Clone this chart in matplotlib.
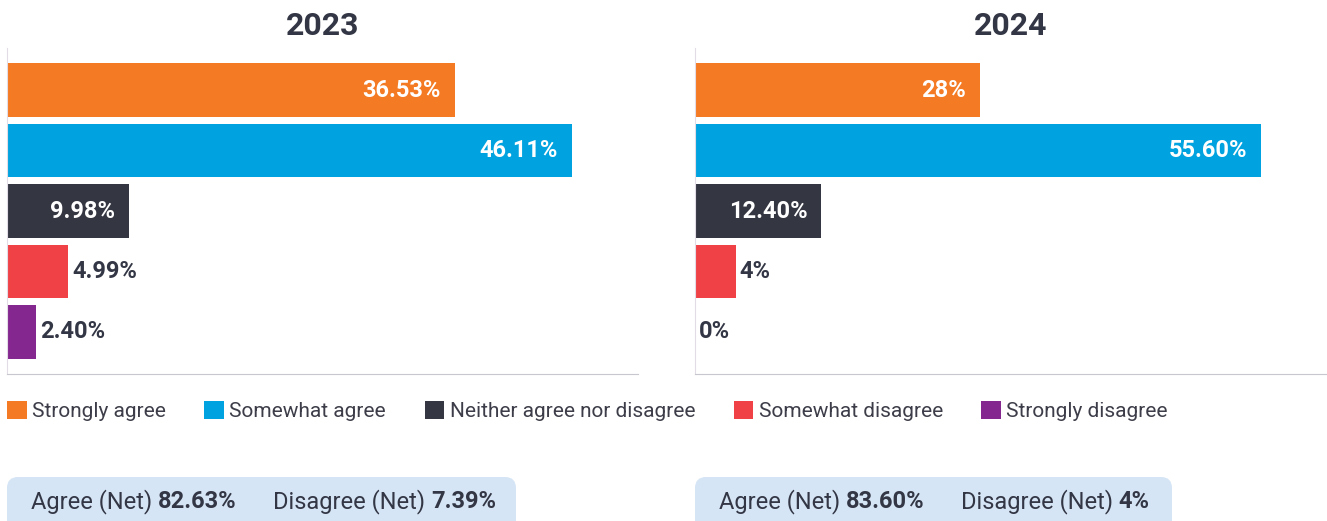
import matplotlib.pyplot as plt
from matplotlib.patches import FancyBboxPatch, Patch

plt.rcParams["font.family"] = ["Roboto", "DejaVu Sans"]

W, H = 1327, 521

CATEGORIES = [
    "Strongly agree",
    "Somewhat agree",
    "Neither agree nor disagree",
    "Somewhat disagree",
    "Strongly disagree",
]
COLORS = ["#F47A23", "#00A3DF", "#343641", "#EF4146", "#84288F"]

YEARS = ["2023", "2024"]
VALUES_2023 = [36.53, 46.11, 9.98, 4.99, 2.40]
VALUES_2024 = [28, 55.60, 12.40, 4, 0]
LABELS_2023 = ["36.53%", "46.11%", "9.98%", "4.99%", "2.40%"]
LABELS_2024 = ["28%", "55.60%", "12.40%", "4%", "0%"]
NET_AGREE = ["82.63%", "83.60%"]
NET_DISAGREE = ["7.39%", "4%"]

TEXT_DARK = "#333644"
BOX_COLOR = "#D5E5F5"


def fx(px):
    return px / W


def fy(py):
    return 1 - py / H


def draw_panel(fig, left_px, right_px, title, values, labels):
    top_px, bottom_px = 48, 374
    ax = fig.add_axes([fx(left_px), fy(bottom_px), fx(right_px - left_px), (bottom_px - top_px) / H])
    ypos = list(range(len(values)))
    ax.barh(ypos, values, height=0.89, color=COLORS, zorder=2)
    xmax = max(values) * 1.117
    ax.set_xlim(0, xmax)
    ax.set_ylim(len(values) - 0.3, -0.7)
    for y, v, lab in zip(ypos, values, labels):
        if v >= 9:
            ax.annotate(lab, (v, y), xytext=(-10, 0), textcoords="offset points",
                        ha="right", va="center", color="white", fontsize=17, fontweight="bold")
        else:
            ax.annotate(lab, (v, y), xytext=(3, 0), textcoords="offset points",
                        ha="left", va="center", color=TEXT_DARK, fontsize=17, fontweight="bold")
    ax.set_xticks([])
    ax.set_yticks([])
    for side in ("top", "right"):
        ax.spines[side].set_visible(False)
    ax.spines["left"].set_color("#E2DCE6")
    ax.spines["bottom"].set_color("#C8C6CE")
    ax.set_facecolor("none")
    fig.text(fx((left_px + right_px) / 2), fy(26), title, ha="center", va="center",
             fontsize=23, fontweight="bold", color=TEXT_DARK)
    return ax


def draw_net_box(fig, overlay, renderer, left_px, right_px, agree, disagree):
    box = FancyBboxPatch((left_px, 477), right_px - left_px, 60,
                         boxstyle="round,pad=0,rounding_size=11",
                         facecolor=BOX_COLOR, edgecolor="none")
    overlay.add_patch(box)
    parts = [
        ("Agree (Net) ", "normal", 0),
        (agree, "bold", 0),
        ("Disagree (Net) ", "normal", 36),
        (disagree, "bold", 0),
    ]
    x = left_px + 24
    for s, weight, gap in parts:
        x += gap
        t = fig.text(fx(x), fy(502), s, ha="left", va="center", fontsize=17,
                     fontweight=weight, color=TEXT_DARK)
        bb = t.get_window_extent(renderer)
        x += bb.width


def main():
    fig = plt.figure(figsize=(W / 100, H / 100), dpi=100)
    fig.patch.set_facecolor("white")

    # pixel-space overlay for the summary boxes
    overlay = fig.add_axes([0, 0, 1, 1], zorder=-1)
    overlay.set_xlim(0, W)
    overlay.set_ylim(H, 0)
    overlay.axis("off")

    draw_panel(fig, 7, 638, YEARS[0], VALUES_2023, LABELS_2023)
    draw_panel(fig, 695, 1327, YEARS[1], VALUES_2024, LABELS_2024)

    handles = [Patch(facecolor=c, edgecolor="none", label=lab) for c, lab in zip(COLORS, CATEGORIES)]
    fig.legend(handles=handles, loc="center left", bbox_to_anchor=(fx(7), fy(411)), ncol=5,
               frameon=False, fontsize=15, handlelength=0.95, handleheight=0.95,
               handletextpad=0.25, columnspacing=1.85, labelcolor="#3C3D48", borderaxespad=0,
               borderpad=0.0)

    renderer = fig.canvas.get_renderer()
    draw_net_box(fig, overlay, renderer, 7, 516, NET_AGREE[0], NET_DISAGREE[0])
    draw_net_box(fig, overlay, renderer, 695, 1172, NET_AGREE[1], NET_DISAGREE[1])

    fig.savefig("out.png", dpi=100)
    plt.close(fig)


if __name__ == "__main__":
    main()
